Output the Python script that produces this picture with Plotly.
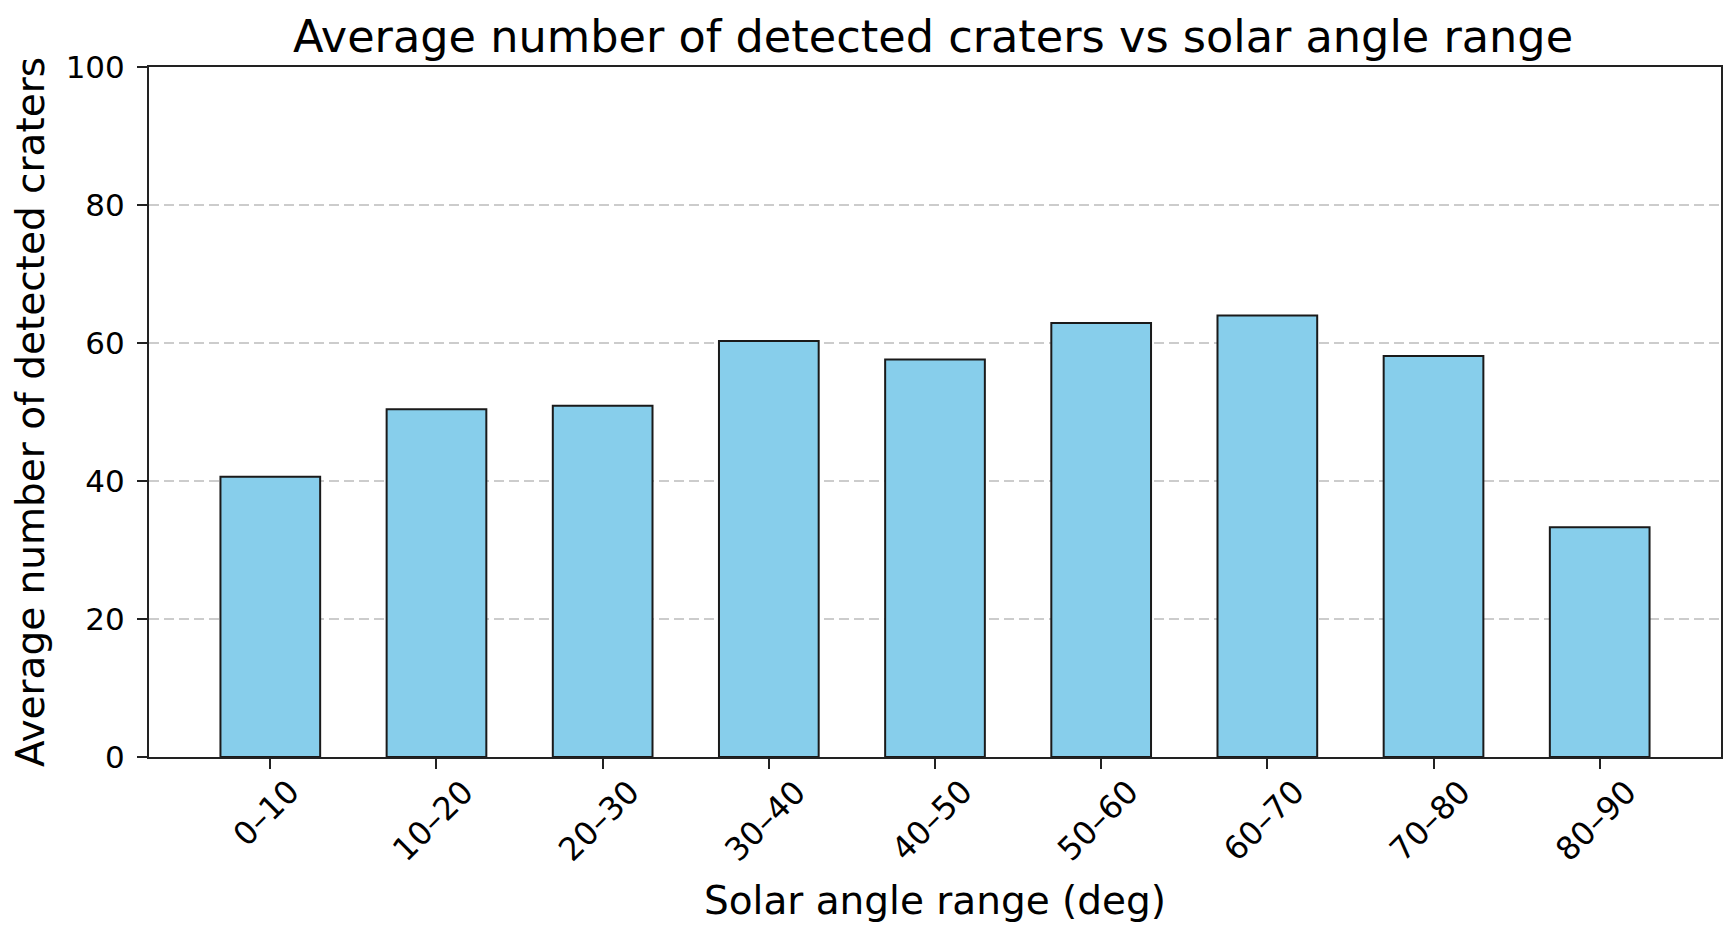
import plotly.graph_objects as go

categories = ["0–10", "10–20", "20–30", "30–40", "40–50", "50–60", "60–70", "70–80", "80–90"]
values = [40.6, 50.4, 50.9, 60.3, 57.6, 62.9, 64.0, 58.1, 33.3]
y_ticks = [0, 20, 40, 60, 80, 100]

title_text = "Average number of detected craters vs solar angle range"
x_title = "Solar angle range (deg)"
y_title = "Average number of detected craters"

FONT = "DejaVu Sans"
W, H = 1736, 930
# the page body adds an 8px offset; margins compensate for it
L, R, T, B = 141, 23, 59, 181

fig = go.Figure()
fig.add_trace(go.Bar(
    x=categories, y=values, width=0.6,
    marker=dict(color="#87CEEB", line=dict(color="#1a1a1a", width=2)),
    showlegend=False,
))

for c in categories:
    fig.add_annotation(
        x=c, xref="x", y=0, yref="paper", yanchor="top", xanchor="center",
        yshift=-13, xshift=-4, text=c, textangle=-45, showarrow=False,
        font=dict(family=FONT, size=32, color="black"),
    )

# y-axis title as rotated text to the left of the tick labels
fig.add_annotation(
    x=0, xref="paper", y=0.5, yref="paper", xanchor="center", yanchor="middle",
    xshift=-(L - 22), text=y_title, textangle=-90, showarrow=False,
    font=dict(family=FONT, size=39, color="black"),
)

fig.update_layout(
    width=W, height=H,
    margin=dict(l=L, r=R, t=T, b=B),
    paper_bgcolor="white", plot_bgcolor="white",
    font=dict(family=FONT, color="black"),
    title=dict(text=title_text, x=(L + (W - R)) / 2 / W - 2 / W, xanchor="center",
               y=1 - 28 / H, yanchor="middle", yref="container",
               font=dict(family=FONT, size=44.6, color="black")),
)
fig.update_xaxes(
    type="category", range=[-0.73, 8.73],
    showline=True, linecolor="#222222", linewidth=2, mirror=True,
    ticks="outside", ticklen=10, tickwidth=2, tickcolor="#222222",
    showticklabels=False, showgrid=False,
    title=dict(text=x_title, font=dict(family=FONT, size=39, color="black"), standoff=119),
)
fig.update_yaxes(
    range=[0, 100], tickvals=y_ticks,
    showline=True, linecolor="#222222", linewidth=2, mirror=True,
    ticks="outside", ticklen=10, tickwidth=2, tickcolor="#222222",
    tickfont=dict(family=FONT, size=31, color="black"), ticklabelstandoff=6,
    showgrid=True, gridcolor="#cccccc", gridwidth=1.5, griddash="10px,5px",
    zeroline=False,
)

fig.write_html("out.html")
